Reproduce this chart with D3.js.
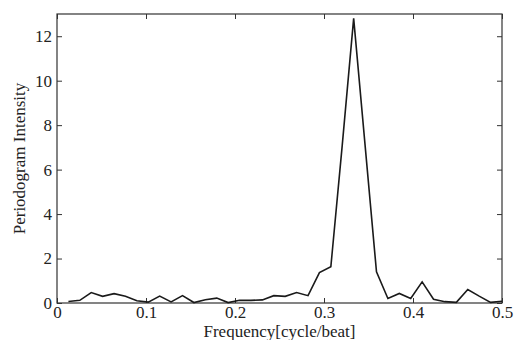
<!DOCTYPE html>
<meta charset="utf-8">
<script src="https://d3js.org/d3.v7.min.js"></script>
<style>
    body { margin: 0; background: #fff; }
    svg text { font-family: "Liberation Serif", "DejaVu Serif", serif; fill: #222; }
    .label { font-size: 17px; text-anchor: middle; }
</style>
<div id="chart"></div>
<script>
    // periodogram samples at k/78 cycle/beat, k = 1..39
    let sampleIndex = d3.range(1, 40);
    let intensity = [
        0.07, 0.12, 0.47, 0.30, 0.42, 0.30, 0.10, 0.04, 0.31, 0.05,
        0.33, 0.02, 0.15, 0.22, 0.02, 0.12, 0.12, 0.14, 0.33, 0.30,
        0.47, 0.33, 1.37, 1.63, 7.10, 12.8, 7.10, 1.40, 0.20, 0.43,
        0.20, 0.95, 0.17, 0.06, 0.03, 0.61, 0.31, 0.03, 0.08
    ];
    let xTicks = [0, 0.1, 0.2, 0.3, 0.4, 0.5];
    let yTicks = [0, 2, 4, 6, 8, 10, 12];

    let data = sampleIndex.map((k, i) => ({f: k / 78, v: intensity[i]}));

    let margin = {top: 14, right: 15, bottom: 37, left: 57},
        width = 517 - margin.left - margin.right,
        height = 340 - margin.top - margin.bottom;

    let svg = d3.select("#chart")
        .append("svg")
        .attr("width", 517)
        .attr("height", 340)
        .append("g")
        .attr("transform", "translate(" + margin.left + "," + margin.top + ")");

    let x = d3.scaleLinear().domain([0, 0.5]).range([0, width]);
    let y = d3.scaleLinear().domain([0, 13]).range([height, 0]);

    let fontFix = g => g
        .attr("font-family", "'Liberation Serif', 'DejaVu Serif', serif")
        .attr("font-size", 17)
        .call(g => g.select(".domain").remove());

    // inward ticks on all four sides, MATLAB style
    svg.append("g")
        .attr("transform", "translate(0," + height + ")")
        .call(d3.axisBottom(x).tickValues(xTicks).tickSizeInner(-5).tickSizeOuter(0).tickPadding(3).tickFormat(d3.format("")))
        .call(fontFix);
    svg.append("g")
        .call(d3.axisTop(x).tickValues(xTicks).tickSizeInner(-5).tickSizeOuter(0).tickFormat(""))
        .call(fontFix);
    svg.append("g")
        .call(d3.axisLeft(y).tickValues(yTicks).tickSizeInner(-5).tickSizeOuter(0).tickPadding(5))
        .call(fontFix);
    svg.append("g")
        .attr("transform", "translate(" + width + ",0)")
        .call(d3.axisRight(y).tickValues(yTicks).tickSizeInner(-5).tickSizeOuter(0).tickFormat(""))
        .call(fontFix);

    svg.selectAll(".tick line").attr("stroke", "#333");

    // frame
    svg.append("rect")
        .attr("width", width)
        .attr("height", height)
        .attr("fill", "none")
        .attr("stroke", "#333")
        .attr("stroke-width", 1.2);

    svg.append("path")
        .datum(data)
        .attr("fill", "none")
        .attr("stroke", "#1a1a1a")
        .attr("stroke-width", 1.6)
        .attr("d", d3.line().x(d => x(d.f)).y(d => y(d.v)));

    svg.append("text")
        .attr("class", "label")
        .attr("x", width / 2)
        .attr("y", height + 34)
        .text("Frequency[cycle/beat]");

    svg.append("text")
        .attr("class", "label")
        .attr("transform", "rotate(-90)")
        .attr("x", -height / 2)
        .attr("y", -margin.left + 25)
        .text("Periodogram Intensity");
</script>
